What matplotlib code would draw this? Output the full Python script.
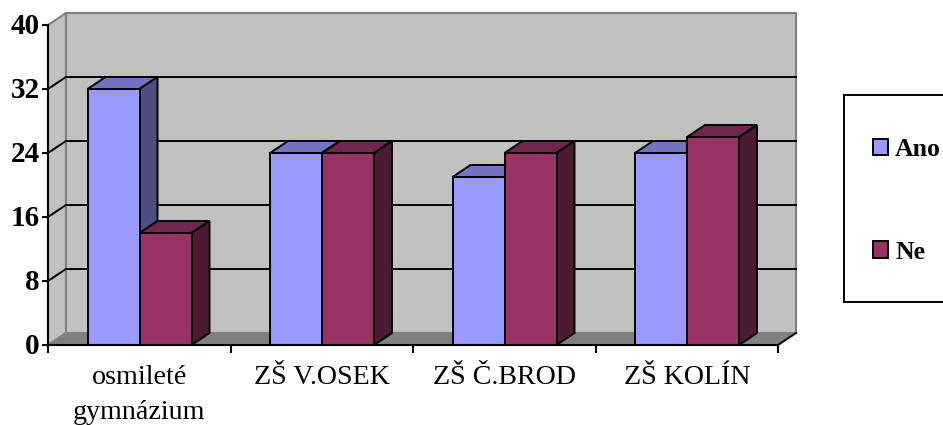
import matplotlib
matplotlib.use("Agg")
import matplotlib.pyplot as plt
from matplotlib.patches import Polygon, Patch, Rectangle
from matplotlib.transforms import ScaledTranslation

plt.rcParams['font.family'] = ['Liberation Serif', 'DejaVu Serif']

categories = ["osmileté\ngymnázium", "ZŠ V.OSEK", "ZŠ Č.BROD", "ZŠ KOLÍN"]
ano = [32, 24, 21, 24]
ne = [14, 24, 24, 26]
yticks = [0, 8, 16, 24, 32, 40]

W, H = 943, 425
# front plane of the chart in pixels
left, right, top, bottom = 48, 778, 25, 345
# 3d depth offset, in data units
dx = 18 / 182.5
dy = 1.5
bar_w = 52 / 182.5

def draw_bar(ax, x, v, front, top_c, side_c):
    edge = dict(edgecolor='black', linewidth=1.4, joinstyle='miter', clip_on=False, zorder=5)
    ax.add_patch(Polygon([(x, v), (x + bar_w, v), (x + bar_w + dx, v + dy), (x + dx, v + dy)], facecolor=top_c, **edge))
    ax.add_patch(Polygon([(x + bar_w, 0), (x + bar_w + dx, dy), (x + bar_w + dx, v + dy), (x + bar_w, v)], facecolor=side_c, **edge))
    ax.add_patch(Polygon([(x, 0), (x + bar_w, 0), (x + bar_w, v), (x, v)], facecolor=front, **edge))

fig = plt.figure(figsize=(W / 100, H / 100), dpi=100)
ax = fig.add_axes([left / W, 1 - bottom / H, (right - left) / W, (bottom - top) / H])
n = len(categories)
ax.set_xlim(0, n)
ax.set_ylim(0, yticks[-1])

# walls and floor
wall = dict(facecolor='#c0c0c0', edgecolor='#808080', linewidth=1.5, clip_on=False, zorder=1)
ax.add_patch(Polygon([(0, 0), (dx, dy), (dx, 40 + dy), (0, 40)], **wall))
ax.add_patch(Polygon([(dx, dy), (n + dx, dy), (n + dx, 40 + dy), (dx, 40 + dy)], **wall))
ax.add_patch(Polygon([(0, 0), (n, 0), (n + dx, dy), (dx, dy)], facecolor='#808080', edgecolor='#808080', clip_on=False, zorder=2))

# gridlines go along the side wall and then across the back
for t in yticks[1:-1]:
    ax.plot([0, dx, n + dx], [t, t + dy, t + dy], color='black', lw=1.4, clip_on=False, zorder=3, solid_joinstyle='miter')
ax.plot([n, n + dx], [0, dy], color='black', lw=1.4, clip_on=False, zorder=3)

offset = 39.5 / 182.5
for i in range(n):
    draw_bar(ax, i + offset, ano[i], '#9999ff', '#7373c0', '#4d4d80')
    draw_bar(ax, i + offset + bar_w, ne[i], '#993366', '#73264d', '#4d1a33')

for s in ['top', 'right']:
    ax.spines[s].set_visible(False)
for s in ['left', 'bottom']:
    ax.spines[s].set_linewidth(1.5)
    ax.spines[s].set_zorder(6)

ax.set_yticks(yticks)
ax.set_yticklabels([str(t) for t in yticks], fontsize=21, fontweight='bold')
ax.tick_params(axis='y', length=4.5, width=1.5, pad=1.5)
# labels sit a touch above their ticks in the original
for lab in ax.get_yticklabels():
    lab.set_transform(lab.get_transform() + ScaledTranslation(0, 2 / 100, fig.dpi_scale_trans))
ax.set_xticks(range(n + 1))
ax.set_xticklabels([])
ax.tick_params(axis='x', which='major', length=6, width=1.5)
ax.set_xticks([i + 0.5 for i in range(n)], minor=True)
ax.set_xticklabels(categories, minor=True, fontsize=20.2, linespacing=1.52, va='top')
ax.tick_params(axis='x', which='minor', length=0, pad=14.5)

# legend box runs off the right edge of the picture
fig.add_artist(Rectangle((844 / W, 1 - 302 / H), 120 / W, 207 / H, transform=fig.transFigure,
                         facecolor='white', edgecolor='black', linewidth=1.4))
handles = [Patch(facecolor='#9999ff', edgecolor='black', linewidth=1.4, label='Ano'),
           Patch(facecolor='#993366', edgecolor='black', linewidth=1.4, label='Ne')]
leg = fig.legend(handles=handles, loc='upper left', bbox_to_anchor=(873 / W, 1 - 138 / H),
                 prop={'size': 18.5, 'weight': 'bold'}, frameon=False,
                 handlelength=0.6, handleheight=0.6, handletextpad=0.26,
                 labelspacing=3.1, borderpad=0, borderaxespad=0)

fig.savefig("out.png", dpi=100)
